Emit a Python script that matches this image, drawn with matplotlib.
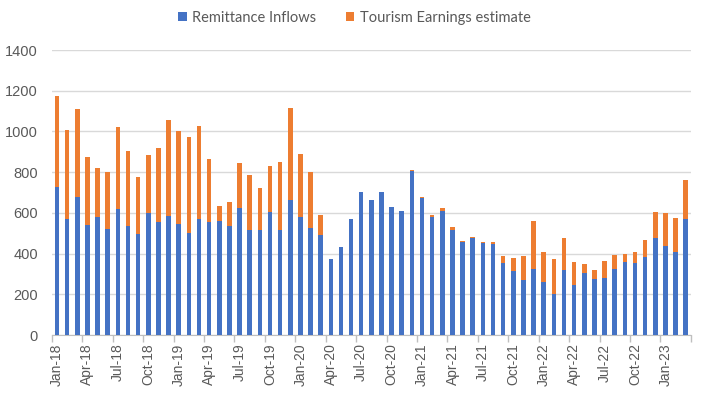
import numpy as np
import matplotlib.pyplot as plt

#------------------------------------------------------------------------------------
# Monthly data, Jan-18 .. Mar-23
#------------------------------------------------------------------------------------
months = ["Jan", "Feb", "Mar", "Apr", "May", "Jun",
          "Jul", "Aug", "Sep", "Oct", "Nov", "Dec"]
labels = [f"{months[i % 12]}-{18 + i // 12}" for i in range(63)]

remittance = [725, 568, 676, 539, 578, 519, 617, 534, 495, 598, 554, 583,
              544, 500, 568, 554, 558, 534, 622, 514, 514, 603, 514, 661,
              578, 524, 490, 372, 431, 568, 701, 661, 701, 627, 607, 808,
              671, 578, 607, 514, 456, 475, 451, 446, 353, 314, 269, 323,
              260, 201, 318, 245, 304, 274, 279, 323, 358, 353, 382, 475,
              436, 407, 568]

total = [1176, 1008, 1112, 877, 823, 799, 1024, 906, 774, 882, 921, 1058,
         1004, 975, 1029, 867, 632, 652, 843, 784, 720, 828, 848, 1117,
         887, 803, 588, 372, 431, 568, 701, 661, 701, 627, 607, 813,
         676, 588, 622, 529, 460, 480, 456, 456, 387, 377, 387, 558,
         407, 372, 475, 358, 348, 318, 363, 392, 397, 407, 465, 603,
         598, 573, 764]

tourism = [t - r for t, r in zip(total, remittance)]

#------------------------------------------------------------------------------------
# Plot
#------------------------------------------------------------------------------------
plt.rcParams['font.family'] = ['Liberation Sans', 'DejaVu Sans']
grey = '#595959'

fig = plt.figure(figsize=(7.02, 3.97), dpi=100)
ax = fig.add_axes([0.074, 0.156, 0.910, 0.718])

x = np.arange(len(labels))
ax.bar(x, remittance, width=0.45, color='#4472C4', label='Remittance Inflows', zorder=3)
ax.bar(x, tourism, width=0.45, bottom=remittance, color='#ED7D31',
       label='Tourism Earnings estimate', zorder=3)

ax.set_xlim(-0.5, len(labels) - 0.5)
ax.set_ylim(0, 1400)
ax.set_yticks(range(0, 1401, 200))
ax.yaxis.grid(True, color='#D9D9D9', linewidth=1, zorder=0)
ax.tick_params(axis='y', length=0, labelsize=10.5, labelcolor=grey, pad=10)

# labels under every third bar, tick marks on the category boundaries
ax.set_xticks(x[::3])
ax.set_xticklabels(labels[::3], rotation=90, fontsize=10, color=grey)
ax.tick_params(axis='x', which='major', length=0, pad=6)
ax.set_xticks(np.arange(-0.5, len(labels), 3), minor=True)
ax.tick_params(axis='x', which='minor', length=5, color='#BFBFBF', width=1)

for side in ['top', 'right', 'left']:
    ax.spines[side].set_visible(False)
ax.spines['bottom'].set_color('#BFBFBF')

handles, names = ax.get_legend_handles_labels()
fig.legend(handles, names, loc='center', bbox_to_anchor=(0.505, 0.955), ncol=2,
           frameon=False, prop={'family': 'Lato', 'size': 10.5}, labelcolor=grey,
           handlelength=0.6, handleheight=0.6, columnspacing=2.0, handletextpad=0.4)

plt.savefig("out.png", dpi=100)
